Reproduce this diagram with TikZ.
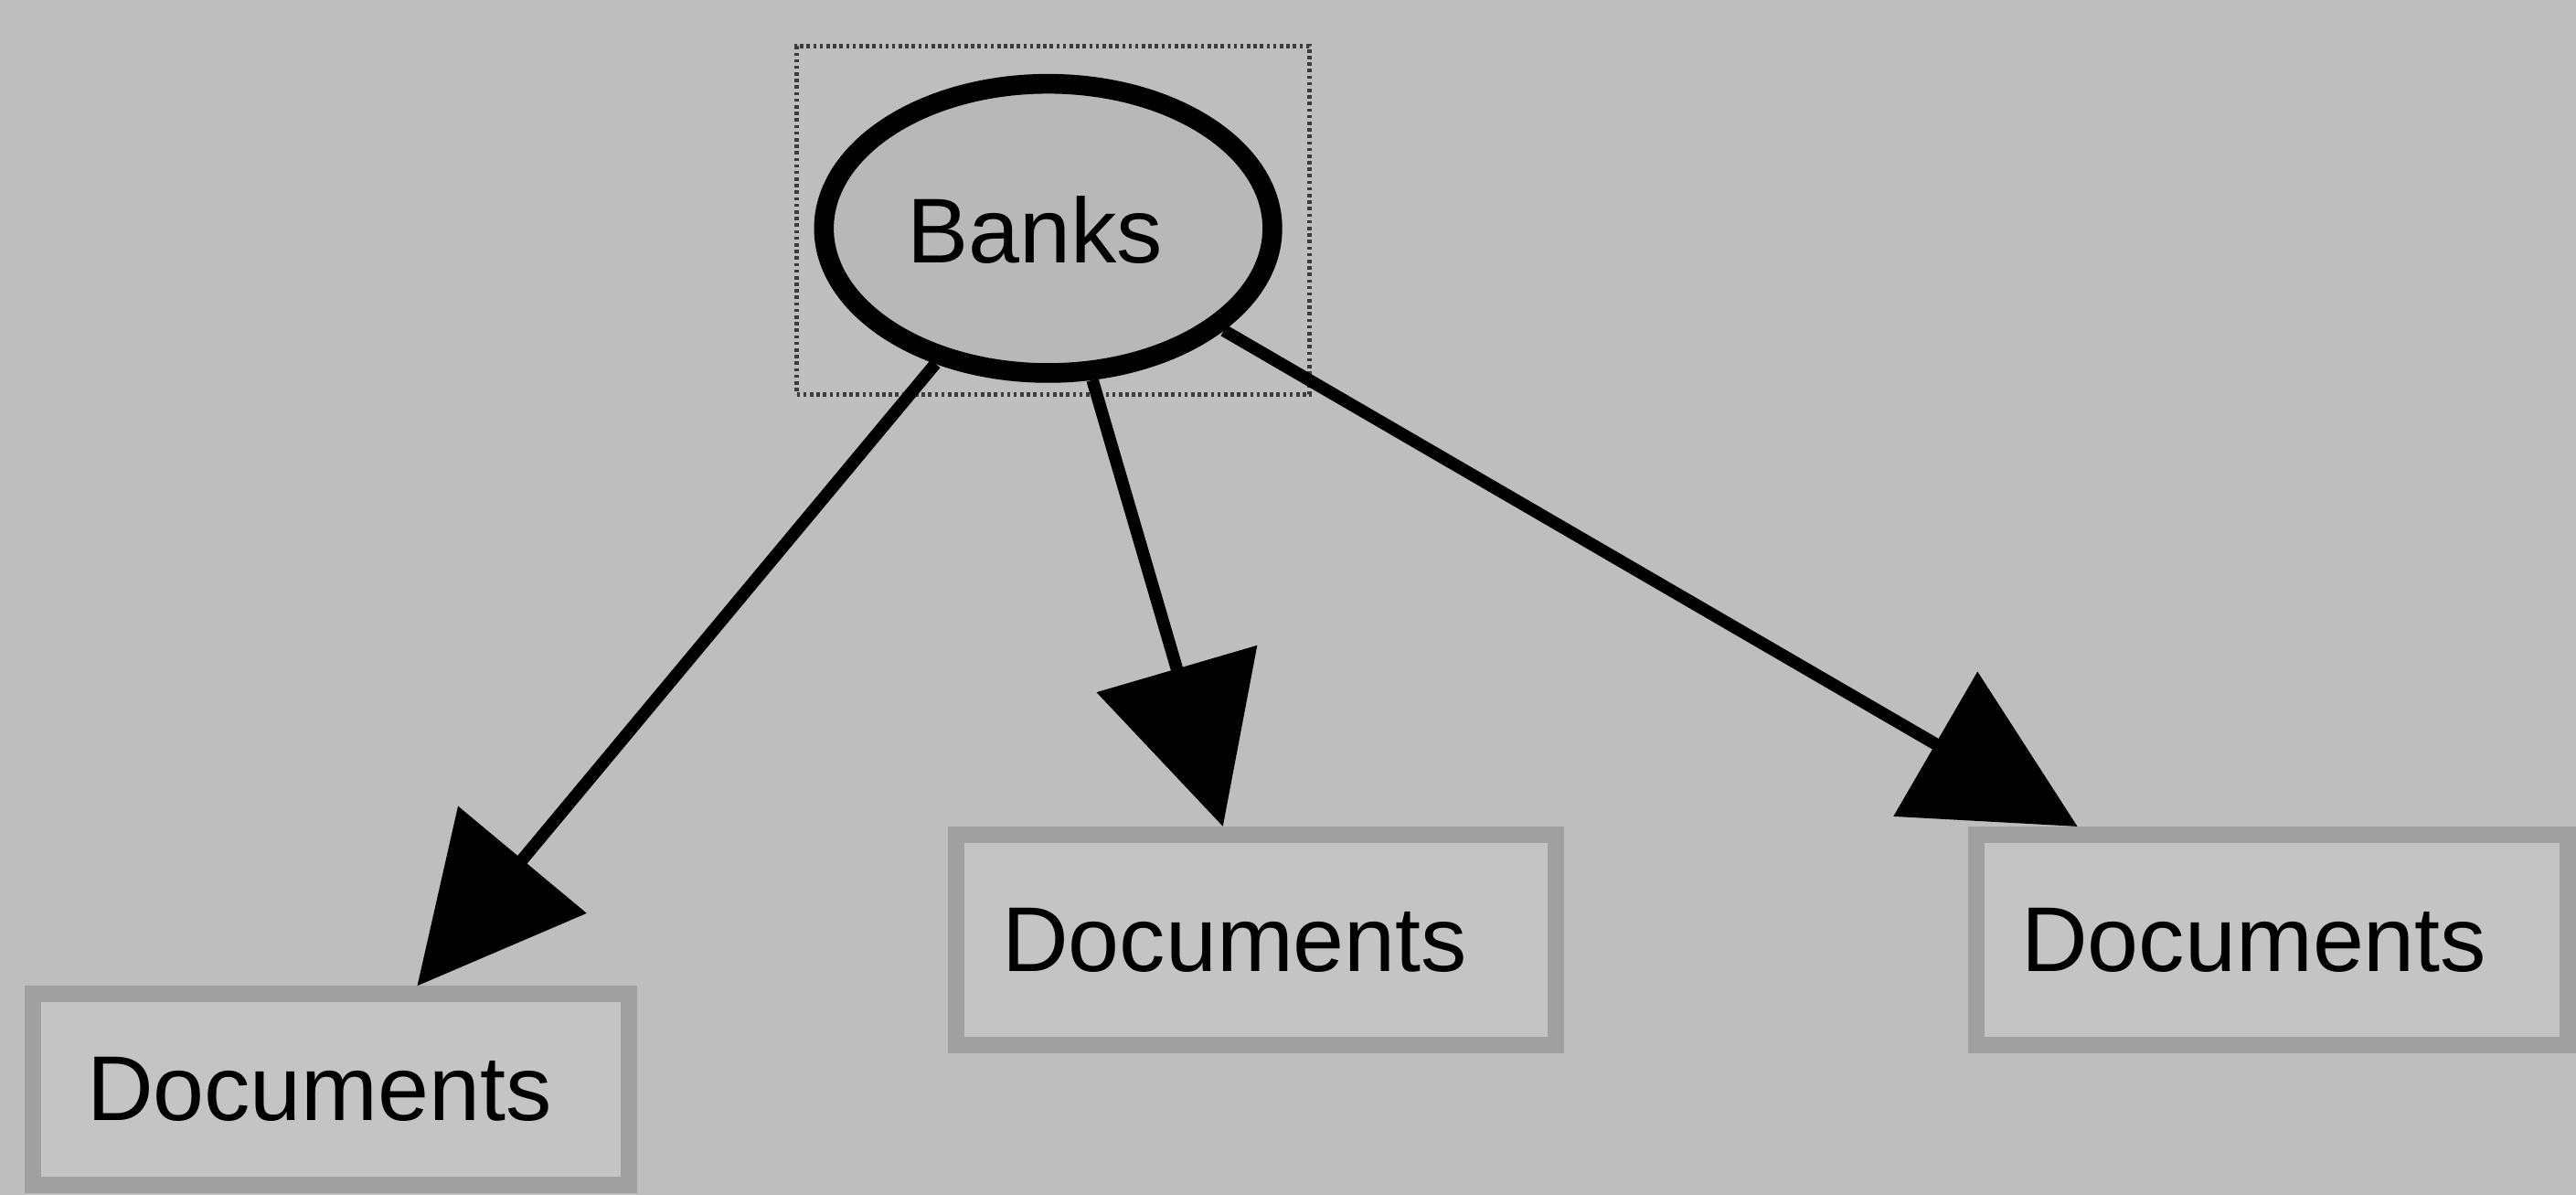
\documentclass[tikz,border=0pt]{standalone}
\usepackage{fontspec}
\setmainfont{Liberation Sans}
\usetikzlibrary{arrows.meta,shapes.geometric}
\definecolor{canvas}{RGB}{190,190,190}
\definecolor{boxfill}{RGB}{196,196,196}
\definecolor{boxrim}{RGB}{160,160,160}
\definecolor{ovalfill}{RGB}{184,184,184}
\definecolor{selrim}{RGB}{60,60,60}
\tikzset{
  label font/.style={font=\fontsize{56}{62}\selectfont},
  docbox/.style={rectangle, draw=boxrim, fill=boxfill, line width=10pt,
    minimum width=365pt, minimum height=128pt, inner sep=0pt, label font},
  oval/.style={ellipse, draw=black, fill=ovalfill, line width=12pt,
    minimum width=273pt, minimum height=176pt, inner sep=0pt, label font},
  selbox/.style={rectangle, draw=selrim, line width=2.5pt,
    dash pattern=on 2pt off 2pt, minimum width=312pt, minimum height=212pt,
    inner sep=0pt},
  link/.style={draw=black, line width=7.5pt,
    -{Triangle[length=100pt, width=100pt]}},
}
\begin{document}
\begin{tikzpicture}[x=1pt, y=-1pt]
  \fill[canvas] (0,0) rectangle (1568,727);
  \useasboundingbox (0,0) rectangle (1568,727);

  % selection frame and root node
  \node[selbox] (sel) at (641,134) {};
  \node[oval] (banks) at (638,139) {\raisebox{-21pt}[0pt][0pt]{Banks}\kern16pt};

  % child nodes
  \node[docbox, minimum width=363pt, minimum height=116pt] (doc1) at (201.5,663) {Documents\kern14pt};
  \node[docbox] (doc2) at (764.5,572) {Documents\kern26pt};
  \node[docbox, minimum width=360pt] (doc3) at (1383,572) {Documents\kern22pt};

  % connectors
  \draw[link] (banks) -- (doc1);
  \draw[link] (banks) -- (doc2);
  \draw[link] (banks) -- (doc3);
\end{tikzpicture}
\end{document}
